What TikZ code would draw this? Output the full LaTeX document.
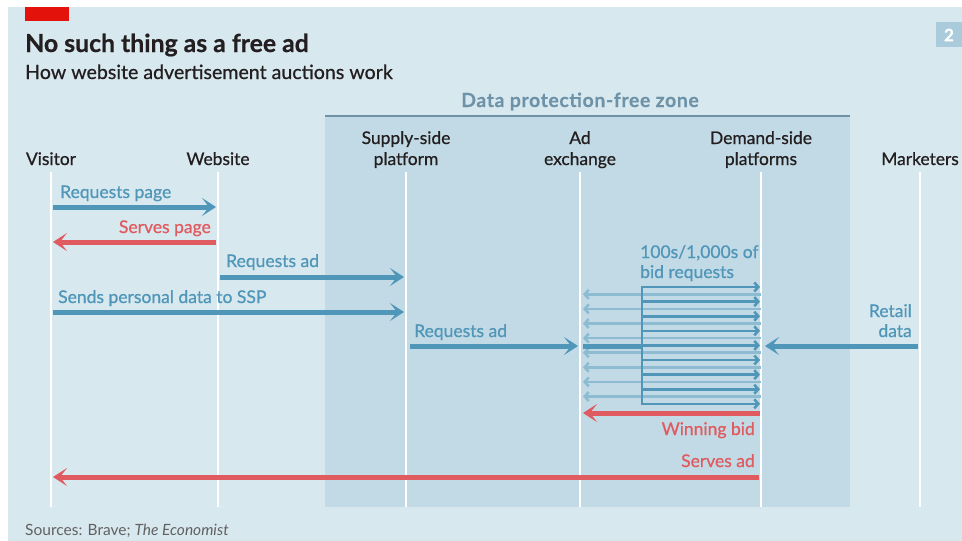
\documentclass[tikz,border=0pt]{standalone}
\usepackage{fontspec}
\setmainfont{Lato}
\newfontfamily\medium{Lato}[FakeBold=0.7]
\newfontfamily\heavy{Lato Bold}[FakeBold=0.6]
\newfontfamily\zonefont{Lato Bold}[LetterSpace=3, FakeBold=0.3]
\usetikzlibrary{arrows.meta}

\definecolor{bgblue}{HTML}{D8E8EF}
\definecolor{zoneblue}{HTML}{C2DAE5}
\definecolor{zoneline}{HTML}{6E93A8}
\definecolor{arrblue}{HTML}{4F96B8}
\definecolor{paleblue}{HTML}{8DBBD1}
\definecolor{arrred}{HTML}{E05B60}
\definecolor{inkdark}{HTML}{231F20}
\definecolor{econred}{HTML}{E3120B}
\definecolor{tagblue}{HTML}{A9CBDB}

\tikzset{
  lane/.style={draw=white, line width=2pt},
  head/.style={inner sep=0pt, text=inkdark, align=center, anchor=base,
    font=\medium\fontsize{17.4}{21}\selectfont},
  lbl/.style={inner sep=0pt, font=\medium\fontsize{17.5}{20}\selectfont},
  msg/.style={line width=5pt, shorten <=2pt, shorten >=2pt,
    -{Stealth[length=14pt,width=18pt,inset=7pt]}},
  bid/.style={line width=2.6pt, -{Straight Barb[length=4pt,width=9pt]}}
}

\begin{document}
\begin{tikzpicture}[x=1pt, y=-1pt]
  \useasboundingbox (0,0) rectangle (962,541);
  \fill[white] (0,0) rectangle (962,541);
  \fill[bgblue] (8,7) rectangle (962,541);
  \fill[econred] (25,7) rectangle (69,21);
  \fill[tagblue] (936,22) rectangle (962,47);
  \node[inner sep=0pt, text=white, font=\heavy\fontsize{17}{20}\selectfont] (tag) at (949,35) {2};

  \node[inner sep=0pt, anchor=base west, text=inkdark,
    font=\heavy\fontsize{24.8}{28}\selectfont] (title) at (25,52) {No such thing as a free ad};
  \node[inner sep=0pt, anchor=base west, text=inkdark,
    font=\medium\fontsize{19.6}{24}\selectfont] (subtitle) at (25,79) {How website advertisement auctions work};

  % the zone
  \fill[zoneblue] (325,117) rectangle (850,507);
  \draw[zoneline, line width=2.5pt] (325,116) -- (850,116);
  \node[inner sep=0pt, anchor=base, text=zoneline,
    font=\zonefont\fontsize{19.5}{20}\selectfont] (zone) at (580,107) {Data protection-free zone};

  % actors
  \node[head] (vis) at (51,165) {Visitor};
  \node[head] (web) at (218,165) {Website};
  \node[head] (ssp) at (406,165) {Supply-side\\platform};
  \node[head] (adx) at (580,165) {Ad\\exchange};
  \node[head] (dsp) at (761,165) {Demand-side\\platforms};
  \node[head] (mkt) at (920,165) {Marketers};

  \foreach \a in {vis,web,ssp,adx,dsp,mkt}
    \draw[lane] (\a |- 0,172) -- (\a |- 0,507);

  % page and ad requests
  \draw[msg, arrblue] (vis |- 0,207) -- (web |- 0,207);
  \node[lbl, anchor=base west, text=arrblue] (rqpage) at (60,198) {Requests page};

  \draw[msg, arrred] (web |- 0,242) -- (vis |- 0,242);
  \node[lbl, anchor=base east, text=arrred] (svpage) at (211,233) {Serves page};

  \draw[msg, arrblue] (web |- 0,277) -- (ssp |- 0,277);
  \node[lbl, anchor=base west, text=arrblue] (rqad) at (226,267) {Requests ad};

  \draw[msg, arrblue] (vis |- 0,312) -- (ssp |- 0,312);
  \node[lbl, anchor=base west, text=arrblue] (sends) at (58,303) {Sends personal data to SSP};

  \draw[msg, arrblue, shorten <=4pt] (ssp |- 0,346) -- (adx |- 0,346);
  \node[lbl, anchor=base west, text=arrblue] (rqadx) at (414,337) {Requests ad};

  \draw[msg, arrblue, shorten >=4pt] (mkt |- 0,346) -- (dsp |- 0,346);
  \node[lbl, anchor=base east, text=arrblue, align=right] (retail) at (912,337) {Retail\\data};

  % fan of bid requests
  \coordinate (fan) at (642,346);
  \foreach \i in {0,...,7}
    \draw[bid, paleblue, shorten >=3pt] (dsp |- 0,{294.3+14.6*\i}) -- (adx |- 0,{294.3+14.6*\i});
  \draw[arrblue, line width=5pt, shorten <=3pt] (adx |- fan) -- (fan);
  \draw[arrblue, line width=2.6pt] (fan |- 0,287) -- (fan |- 0,404);
  \foreach \i in {0,...,8}
    \draw[bid, arrblue, shorten <=-1.3pt, shorten >=1pt] (fan |- 0,{287+14.6*\i}) -- (dsp |- 0,{287+14.6*\i});
  \node[lbl, anchor=base west, text=arrblue, align=left] (bidreq) at (640,278) {100s/1,000s of\\bid requests};

  % answers
  \draw[msg, arrred, shorten <=1pt, shorten >=3pt] (dsp |- 0,413) -- (adx |- 0,413);
  \node[lbl, anchor=base east, text=arrred] (win) at (755,435) {Winning bid};

  \draw[msg, arrred] (dsp |- 0,477) -- (vis |- 0,477);
  \node[lbl, anchor=base east, text=arrred] (svad) at (755,467) {Serves ad};

  \node[inner sep=0pt, anchor=base west, text=black!62,
    font=\fontsize{15.5}{18}\selectfont] (src) at (25,535) {Sources: Brave; \textit{The Economist}};
\end{tikzpicture}
\end{document}
